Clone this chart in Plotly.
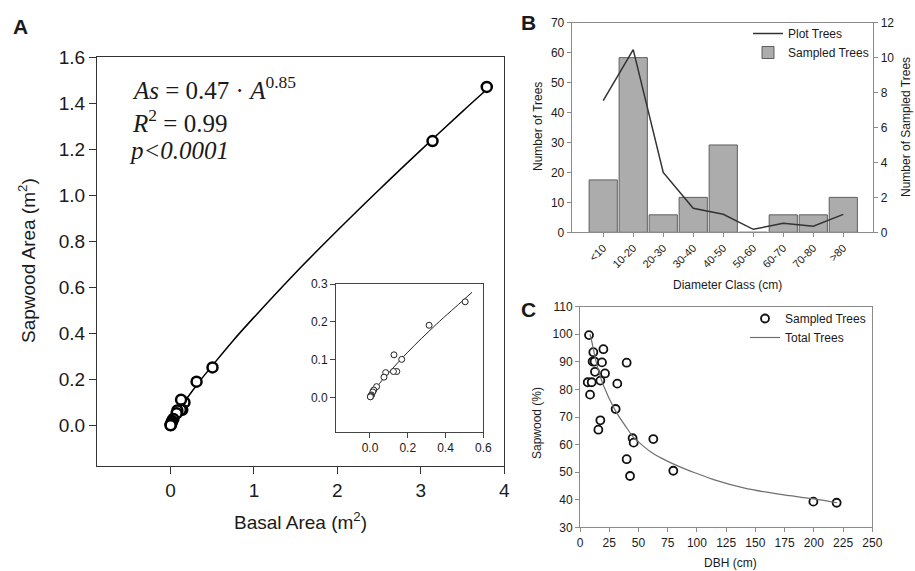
import plotly.graph_objects as go

# ---------------- data ----------------
# Panel A: basal area vs sapwood area
basal_area = [3.79, 3.14, 0.504, 0.313, 0.168, 0.127, 0.142, 0.124, 0.083, 0.074,
              0.035, 0.02, 0.015, 0.008, 0.005, 0.003, 0.002]
sapwood_area = [1.47, 1.235, 0.253, 0.191, 0.101, 0.113, 0.069, 0.069, 0.066, 0.054,
                0.029, 0.02, 0.015, 0.007, 0.005, 0.003, 0.002]
fit_x = [0, 0.02, 0.05, 0.1, 0.2, 0.35, 0.5, 0.75, 1.0, 1.5, 2.0, 2.5, 3.0, 3.5, 3.8]
fit_y = [0, 0.017, 0.037, 0.066, 0.12, 0.193, 0.26, 0.369, 0.47, 0.664, 0.847, 1.024, 1.196, 1.364, 1.462]
inset_fit_x = [0, 0.02, 0.05, 0.1, 0.2, 0.35, 0.5, 0.54]
inset_fit_y = [0, 0.017, 0.037, 0.066, 0.12, 0.193, 0.26, 0.278]

# Panel B: diameter classes
diam_classes = ["&lt;10", "10-20", "20-30", "30-40", "40-50", "50-60", "60-70", "70-80", "&gt;80"]
plot_trees = [44, 61, 20, 8, 6, 1, 3, 2, 6]
sampled_trees = [3, 10, 1, 2, 5, 0, 1, 1, 2]

# Panel C: DBH vs sapwood %
dbh = [7.7, 11.4, 20.0, 10.8, 12.5, 18.8, 39.9, 12.8, 21.4, 6.6, 10.0, 17.4, 31.9,
       8.6, 30.5, 17.4, 15.7, 45.0, 45.9, 62.7, 39.9, 42.8, 79.8, 199.6, 219.5]
sapwood_pct = [99.7, 93.5, 94.6, 90.1, 90.1, 89.8, 89.7, 86.4, 85.8, 82.6, 82.6, 83.2, 82.1,
               78.1, 72.9, 68.8, 65.4, 62.3, 60.7, 62.0, 54.7, 48.6, 50.5, 39.3, 38.9]
total_x = [8.5, 10, 15, 20, 30, 40, 45, 50, 60, 70, 85, 100, 115, 140, 170, 200, 220]
total_y = [100, 97.5, 88, 81.5, 72.5, 66, 63, 61, 57.5, 55, 52, 49.5, 47.2, 44.3, 42, 40.3, 38.9]

# ---------------- layout helpers ----------------
W, H = 915, 571
def fx(p):
    return p / W
def fy(p):
    return 1 - p / H

SANS = "Liberation Sans"
SERIF = "Liberation Serif"
DARK = "#1a1a1a"
GRAY_AX = "#8a8a8a"

fig = go.Figure()

# Panel A main
fig.add_trace(go.Scatter(x=fit_x, y=fit_y, mode="lines",
                         line=dict(color="black", width=1.5, shape="spline"),
                         xaxis="x", yaxis="y", showlegend=False))
fig.add_trace(go.Scatter(x=basal_area, y=sapwood_area, mode="markers",
                         marker=dict(symbol="circle", size=10, color="white",
                                     line=dict(color="black", width=2.5)),
                         xaxis="x", yaxis="y", showlegend=False))
# Panel A inset
fig.add_trace(go.Scatter(x=inset_fit_x, y=inset_fit_y, mode="lines",
                         line=dict(color="#222", width=1, shape="spline"),
                         xaxis="x2", yaxis="y2", showlegend=False))
fig.add_trace(go.Scatter(x=basal_area, y=sapwood_area, mode="markers",
                         marker=dict(symbol="circle", size=6, color="white",
                                     line=dict(color="#222", width=1)),
                         xaxis="x2", yaxis="y2", showlegend=False))

# Panel B
idx = list(range(len(diam_classes)))
fig.add_trace(go.Bar(x=idx, y=sampled_trees, name="Sampled Trees", width=0.94,
                     marker=dict(color="#acacac", line=dict(color="#5e5e5e", width=1)),
                     xaxis="x3", yaxis="y3", legend="legend", legendrank=2))
fig.add_trace(go.Scatter(x=idx, y=plot_trees, name="Plot Trees", mode="lines",
                         line=dict(color="#333", width=1.5),
                         xaxis="x3", yaxis="y4", legend="legend", legendrank=1))

# Panel C
fig.add_trace(go.Scatter(x=dbh, y=sapwood_pct, name="Sampled Trees", mode="markers",
                         marker=dict(symbol="circle", size=8, color="white",
                                     line=dict(color="#111", width=1.8)),
                         xaxis="x4", yaxis="y5", legend="legend2"))
fig.add_trace(go.Scatter(x=total_x, y=total_y, name="Total Trees", mode="lines",
                         line=dict(color="#707070", width=1.2, shape="spline"),
                         xaxis="x4", yaxis="y5", legend="legend2"))

ax_common = dict(showgrid=False, zeroline=False, showline=True, ticks="outside",
                 automargin=False)

fig.update_layout(
    width=W, height=H, margin=dict(l=0, r=0, t=0, b=0, autoexpand=False),
    paper_bgcolor="white", plot_bgcolor="rgba(0,0,0,0)",
    font=dict(family=SANS, color=DARK),
    barmode="overlay",
    # Panel A main
    xaxis=dict(**ax_common, domain=[fx(97), fx(504.3)], range=[-0.88, 4], dtick=1,
               linecolor="#333", linewidth=1.2, mirror=True, ticklen=7, tickcolor="#333",
               tickfont=dict(size=19, color=DARK), anchor="y"),
    yaxis=dict(**ax_common, domain=[fy(466), fy(57)], range=[-0.175, 1.6], dtick=0.2,
               tickformat=".1f", linecolor="#333", linewidth=1.2, mirror=True, ticklen=7,
               tickcolor="#333", tickfont=dict(size=19, color=DARK), anchor="x"),
    # Panel A inset
    xaxis2=dict(**ax_common, domain=[fx(336), fx(483.3)], range=[-0.18, 0.6],
                tickvals=[0, 0.2, 0.4, 0.6], tickformat=".1f", linecolor="#444", linewidth=1,
                mirror=True, ticklen=5, tickcolor="#444", tickfont=dict(size=12, color=DARK),
                anchor="y2"),
    yaxis2=dict(**ax_common, domain=[fy(431.7), fy(284)], range=[-0.09, 0.3], dtick=0.1,
                tickformat=".1f", linecolor="#444", linewidth=1, mirror=True, ticklen=5,
                tickcolor="#444", tickfont=dict(size=12, color=DARK), anchor="x2"),
    # Panel B
    xaxis3=dict(**ax_common, domain=[fx(571.7), fx(873.3)], range=[-1.05, 9],
                tickvals=idx, ticktext=diam_classes, tickangle=-45, linecolor=GRAY_AX,
                mirror=True, ticklen=4, tickcolor=GRAY_AX, tickfont=dict(size=11, color=DARK),
                anchor="y3"),
    yaxis3=dict(**ax_common, domain=[fy(232.3), fy(22.7)], range=[0, 12], dtick=2,
                side="right", linecolor=GRAY_AX, ticklen=4, tickcolor=GRAY_AX,
                tickfont=dict(size=12, color=DARK), anchor="x3"),
    yaxis4=dict(**ax_common, range=[0, 70], dtick=10, side="left", overlaying="y3",
                linecolor=GRAY_AX, ticklen=4, tickcolor=GRAY_AX,
                tickfont=dict(size=12, color=DARK), anchor="x3"),
    # Panel C
    xaxis4=dict(**ax_common, domain=[fx(580), fx(872.3)], range=[0, 250], dtick=25,
                linecolor=GRAY_AX, mirror=True, ticklen=4, tickcolor=GRAY_AX,
                tickfont=dict(size=12, color=DARK), anchor="y5"),
    yaxis5=dict(**ax_common, domain=[fy(527.3), fy(306.7)], range=[30, 110], dtick=10,
                linecolor=GRAY_AX, mirror=True, ticklen=4, tickcolor=GRAY_AX,
                tickfont=dict(size=12, color=DARK), anchor="x4"),
    legend=dict(x=fx(748), y=fy(19), xanchor="left", yanchor="top", bgcolor="rgba(0,0,0,0)",
                font=dict(size=12, color=DARK), itemwidth=30, tracegroupgap=0),
    legend2=dict(x=fx(745), y=fy(304), xanchor="left", yanchor="top", bgcolor="rgba(0,0,0,0)",
                 font=dict(size=12, color=DARK), itemwidth=30, tracegroupgap=0),
)

annotations = [
    # panel letters
    dict(text="<b>A</b>", x=fx(20), y=fy(26), font=dict(size=21)),
    dict(text="<b>B</b>", x=fx(528), y=fy(23), font=dict(size=21)),
    dict(text="<b>C</b>", x=fx(528), y=fy(309), font=dict(size=21)),
    # panel A titles
    dict(text="Sapwood Area (m<sup>2</sup>)", x=fx(27), y=fy(261), textangle=-90,
         font=dict(size=19)),
    dict(text="Basal Area (m<sup>2</sup>)", x=fx(300), y=fy(521), font=dict(size=19)),
    # equation
    dict(text="<i>As</i> = 0.47 · <i>A</i><sup>0.85</sup>", x=fx(130), y=fy(88), xanchor="left",
         font=dict(size=25, family=SERIF)),
    dict(text="<i>R</i><sup>2</sup> = 0.99", x=fx(130), y=fy(121), xanchor="left",
         font=dict(size=25, family=SERIF)),
    dict(text="<i>p&lt;0.0001</i>", x=fx(127), y=fy(150), xanchor="left",
         font=dict(size=25, family=SERIF)),
    # panel B titles
    dict(text="Number of Trees", x=fx(538), y=fy(127), textangle=-90, font=dict(size=12)),
    dict(text="Number of Sampled Trees", x=fx(906), y=fy(127), textangle=-90, font=dict(size=12)),
    dict(text="Diameter Class (cm)", x=fx(727), y=fy(285), font=dict(size=12)),
    # panel C titles
    dict(text="Sapwood (%)", x=fx(537), y=fy(423), textangle=-90, font=dict(size=12)),
    dict(text="DBH (cm)", x=fx(730), y=fy(563), font=dict(size=12)),
]
for a in annotations:
    a.setdefault("xref", "paper")
    a.setdefault("yref", "paper")
    a.setdefault("showarrow", False)
    a.setdefault("xanchor", "center")
    a.setdefault("yanchor", "middle")
    a["font"].setdefault("color", DARK)
    a["font"].setdefault("family", SANS)
fig.update_layout(annotations=annotations)

fig.write_html("out.html", config={"displayModeBar": False},
               post_script="document.body.style.margin='0';document.body.style.overflow='hidden';")
